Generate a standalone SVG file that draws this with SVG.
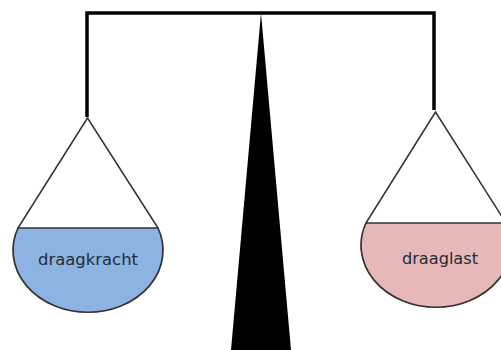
<svg xmlns="http://www.w3.org/2000/svg" width="501" height="350" viewBox="0 0 501 350">
  <style>
    .beam { fill: none; stroke: #000; stroke-width: 3.5; stroke-linejoin: miter; }
    .cord { fill: none; stroke: #333; stroke-width: 1.5; }
    .pan { stroke: #333; stroke-width: 1.7; }
    .label { font-family: "DejaVu Sans", "Verdana", sans-serif; font-size: 15.5px; fill: #232b38; text-anchor: middle; }
  </style>
  <rect width="501" height="350" fill="#fff"/>

  <!-- balance beam with hangers -->
  <g id="connectors">
    <path class="beam" d="M87 117 V13 H434 V110"/>
  </g>

  <!-- central pointer / stand -->
  <g id="pointer">
    <polygon points="261,13 231,350 291,350" fill="#000"/>
  </g>

  <!-- left pan -->
  <g id="pan-left">
    <path class="cord" d="M18 228 L87.5 118 L158 228"/>
    <path class="pan" fill="#8db3e2" d="M18 228 A75 62 0 1 0 158 228 Z"/>
    <text class="label" x="88" y="265" textLength="100" lengthAdjust="spacingAndGlyphs">draagkracht</text>
  </g>

  <!-- right pan -->
  <g id="pan-right">
    <path class="cord" d="M366 223 L435.5 112 L506 223"/>
    <path class="pan" fill="#e6b9b8" d="M366 223 A75 62 0 1 0 506 223 Z"/>
    <text class="label" x="440" y="264" textLength="76" lengthAdjust="spacingAndGlyphs">draaglast</text>
  </g>
</svg>
